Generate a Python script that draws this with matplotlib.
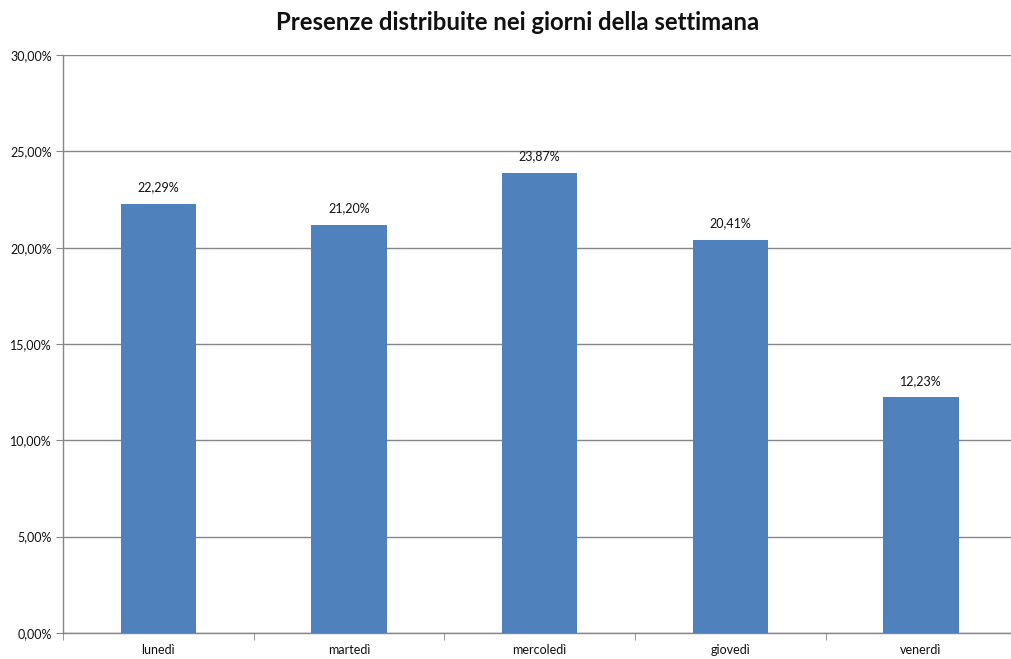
import matplotlib
matplotlib.use("Agg")
import matplotlib.pyplot as plt
from matplotlib.ticker import FuncFormatter, FixedLocator

days = ["lunedì", "martedì", "mercoledì", "giovedì", "venerdì"]
presenze = [22.29, 21.20, 23.87, 20.41, 12.23]
y_ticks = [0, 5, 10, 15, 20, 25, 30]

plt.rcParams['font.family'] = ['Lato', 'DejaVu Sans']

fig = plt.figure(figsize=(10.11, 6.59), dpi=100)
ax = fig.add_axes([0.0623, 0.0395, 0.943, 0.877])

x = list(range(len(days)))
bar_color = "#4F81BD"
ax.bar(x, presenze, width=0.395, color=bar_color, zorder=3)

for xi, v in zip(x, presenze):
    ax.text(xi, v + 0.55, f"{v:.2f}%".replace(".", ","), ha="center", va="bottom",
            fontsize=9, color="#111111", zorder=4)

ax.set_xlim(-0.5, len(days) - 0.5)
ax.set_ylim(0, 30)
ax.set_yticks(y_ticks)
ax.yaxis.set_major_formatter(FuncFormatter(lambda v, p: f"{v:.2f}%".replace(".", ",")))
ax.grid(axis="y", color="#868686", linewidth=1.0, zorder=0)

ax.set_xticks(x)
ax.set_xticklabels(days)
ax.xaxis.set_minor_locator(FixedLocator([i + 0.5 for i in range(-1, len(days))]))
ax.tick_params(axis="x", which="major", length=0, pad=8, labelsize=9, colors="#111111")
ax.tick_params(axis="x", which="minor", length=5, color="#868686", direction="out")
ax.tick_params(axis="y", length=5, color="#868686", labelsize=9, labelcolor="#111111", pad=3)

for side in ("top", "right"):
    ax.spines[side].set_visible(False)
for side in ("left", "bottom"):
    ax.spines[side].set_color("#868686")
    ax.spines[side].set_linewidth(1.0)

fig.text(0.5115, 0.966, "Presenze distribuite nei giorni della settimana", ha="center", va="center",
         fontsize=17.2, fontweight="bold", color="#111111")

fig.savefig("out.png", dpi=100)
